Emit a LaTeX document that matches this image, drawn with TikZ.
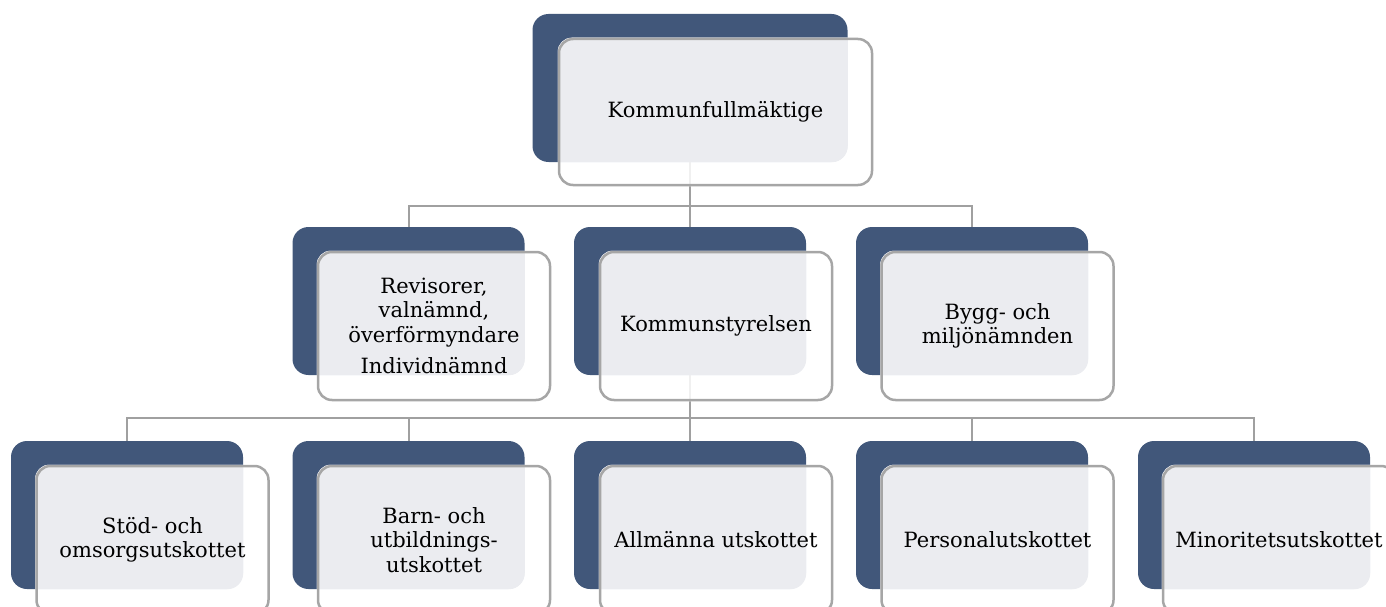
\documentclass[tikz,border=0pt]{standalone}
\usepackage{fontspec}
\setmainfont{DejaVu Serif}
\usetikzlibrary{calc}
\pgfdeclarelayer{bg}
\pgfdeclarelayer{mid}
\pgfsetlayers{bg,mid,main}
\definecolor{darkblue}{HTML}{41577A}
\definecolor{lightfill}{HTML}{EBECF0}
\definecolor{bordergray}{HTML}{A6A6A6}
\definecolor{linegray}{HTML}{A0A0A0}
\tikzset{
  darkbox/.style={fill=darkblue, rounded corners=16pt, minimum width=232pt, minimum height=148pt, inner sep=0pt, draw=none},
  frontbox/.style={draw=bordergray, line width=2.5pt, rounded corners=14pt, minimum width=232pt, minimum height=148pt, inner sep=0pt, align=center, font=\fontsize{21}{24.5}\selectfont},
  conn/.style={draw=linegray, line width=2pt},
}
\newcommand{\fillfront}[2]{%
  \fill[white, fill opacity=0.85, rounded corners=14pt] (#2.south west) rectangle (#2.north east);
  \begin{scope}
    \clip[rounded corners=16pt] (#1.south west) rectangle (#1.north east);
    \fill[lightfill, rounded corners=14pt] (#2.south west) rectangle (#2.north east);
  \end{scope}}
\begin{document}
\begin{tikzpicture}[x=1pt,y=-1pt]
\useasboundingbox (0,0) rectangle (1386,607);
% front nodes (main layer)
\node[frontbox, minimum width=313pt, minimum height=146pt] (f0) at (715.5,112) {Kommunfullmäktige};
\node[frontbox] (f1) at (434,326) {Revisorer,\\valnämnd,\\överförmyndare\\[7pt]Individnämnd};
\node[frontbox] (f2) at (716,326) {Kommunstyrelsen};
\node[frontbox] (f3) at (997.5,326) {Bygg- och\\miljönämnden};
\node[frontbox] (f4) at (152.5,540) {Stöd- och\\omsorgsutskottet};
\node[frontbox] (f5) at (434,540) {Barn- och\\utbildnings-\\utskottet};
\node[frontbox] (f6) at (716,540) {Allmänna utskottet};
\node[frontbox] (f7) at (997.5,540) {Personalutskottet};
\node[frontbox] (f8) at (1279,540) {Minoritetsutskottet};
\begin{pgfonlayer}{bg}
\node[darkbox, minimum width=315pt] (d0) at (690,88) {};
\node[darkbox] (d1) at (408.5,301) {};
\node[darkbox] (d2) at (690,301) {};
\node[darkbox] (d3) at (972,301) {};
\node[darkbox] (d4) at (127,515) {};
\node[darkbox] (d5) at (408.5,515) {};
\node[darkbox] (d6) at (690,515) {};
\node[darkbox] (d7) at (972,515) {};
\node[darkbox] (d8) at (1254,515) {};
\coordinate (j1) at (690,206);
\coordinate (j2) at (690,418);
\draw[conn] (d0.south) -- (j1);
\draw[conn] (j1) -| (d1.north);
\draw[conn] (j1) -| (d3.north);
\draw[conn] (j1) -- (d2.north);
\draw[conn] (d2.south) -- (j2);
\draw[conn] (j2) -| (d4.north);
\draw[conn] (j2) -| (d5.north);
\draw[conn] (j2) -- (d6.north);
\draw[conn] (j2) -| (d7.north);
\draw[conn] (j2) -| (d8.north);
\end{pgfonlayer}
\begin{pgfonlayer}{mid}
\fillfront{d0}{f0}
\fillfront{d1}{f1}
\fillfront{d2}{f2}
\fillfront{d3}{f3}
\fillfront{d4}{f4}
\fillfront{d5}{f5}
\fillfront{d6}{f6}
\fillfront{d7}{f7}
\fillfront{d8}{f8}
\end{pgfonlayer}
\end{tikzpicture}
\end{document}
